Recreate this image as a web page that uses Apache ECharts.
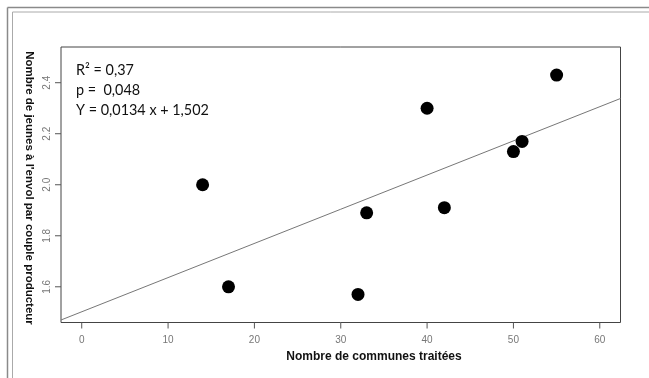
<!DOCTYPE html>
<html>
<head>
<meta charset="utf-8">
<script src="https://cdn.jsdelivr.net/npm/echarts@6/dist/echarts.min.js"></script>
<style>
  html, body { margin: 0; padding: 0; background: #fff; }
  #chart { width: 649px; height: 378px; }
</style>
</head>
<body>
<div id="chart"></div>
<script>
// Communes traitées vs. jeunes à l'envol par couple producteur
const communes = [14, 17, 32, 33, 40, 42, 50, 51, 55];
const jeunes   = [2.00, 1.60, 1.57, 1.89, 2.30, 1.91, 2.13, 2.17, 2.43];

const xTicks = [0, 10, 20, 30, 40, 50, 60];
const yTicks = [1.6, 1.8, 2.0, 2.2, 2.4];

// Fitted regression: Y = 0.0134 x + 1.502
const slope = 0.0134;
const intercept = 1.502;
const statLines = ['R\u00B2 = 0,37', 'p =  0,048', 'Y = 0,0134 x + 1,502'];

// plotting window (data range padded by 4% on each side)
const xMin = -2.4, xMax = 62.4;
const yMin = 1.46, yMax = 2.54;

const W = 649, H = 378;
const TICK_LEN = 6;

const points = communes.map((c, i) => [c, jeunes[i]]);
const fitLine = [xMin, xMax].map(x => [x, slope * x + intercept]);

const chart = echarts.init(document.getElementById('chart'), null, { renderer: 'canvas' });

const axisFont = { fontFamily: 'Liberation Sans, Arial, sans-serif', fontSize: 10, color: '#777' };

chart.setOption({
  animation: false,
  backgroundColor: '#fff',
  grid: {
    left: 61, right: 28.5, top: 47, bottom: 55.5,
    show: true, borderColor: '#444', borderWidth: 1, backgroundColor: 'transparent'
  },
  xAxis: {
    type: 'value', min: xMin, max: xMax, position: 'bottom',
    axisLine: { show: false, onZero: false },
    splitLine: { show: false },
    axisTick: { show: false },
    axisLabel: Object.assign({ customValues: xTicks, margin: 13 }, axisFont)
  },
  yAxis: {
    type: 'value', min: yMin, max: yMax, position: 'left',
    axisLine: { show: false, onZero: false },
    splitLine: { show: false },
    axisTick: { show: false },
    axisLabel: Object.assign({
      customValues: yTicks, margin: 9, rotate: 90,
      formatter: v => v.toFixed(1)
    }, axisFont)
  },
  series: [
    {
      type: 'line', data: fitLine, symbol: 'none', silent: true,
      lineStyle: { color: '#777', width: 1 }, z: 2
    },
    {
      type: 'scatter', data: points, symbol: 'circle', symbolSize: 13,
      itemStyle: { color: '#000', opacity: 1 }, z: 3
    }
  ]
});

// outward tick marks, positioned through the axis scales
const tickStyle = { stroke: '#555', lineWidth: 1 };
const tickMarks = [];
xTicks.forEach(v => {
  const p = chart.convertToPixel({ gridIndex: 0 }, [v, yMin]);
  tickMarks.push({ type: 'line', z: 100, silent: true,
    shape: { x1: p[0], y1: p[1], x2: p[0], y2: p[1] + TICK_LEN }, style: tickStyle });
});
yTicks.forEach(v => {
  const p = chart.convertToPixel({ gridIndex: 0 }, [xMin, v]);
  tickMarks.push({ type: 'line', z: 100, silent: true,
    shape: { x1: p[0] - TICK_LEN, y1: p[1], x2: p[0], y2: p[1] }, style: tickStyle });
});

const decorations = [
  // double page frame
  { type: 'line', shape: { x1: 7.5, y1: 7.5, x2: W, y2: 7.5 }, style: { stroke: '#8a8a8a', lineWidth: 1.5 } },
  { type: 'line', shape: { x1: 7.5, y1: 7.5, x2: 7.5, y2: H }, style: { stroke: '#8a8a8a', lineWidth: 1.5 } },
  { type: 'line', shape: { x1: 12.5, y1: 12, x2: W, y2: 12 }, style: { stroke: '#aaa', lineWidth: 1 } },
  { type: 'line', shape: { x1: 12.5, y1: 12, x2: 12.5, y2: H }, style: { stroke: '#aaa', lineWidth: 1 } },
  // axis titles
  {
    type: 'text', x: 374, y: 357,
    style: { text: 'Nombre de communes traitées', fontFamily: 'Liberation Sans, Arial, sans-serif',
      fontWeight: 'bold', fontSize: 12, fill: '#111', align: 'center', verticalAlign: 'middle' }
  },
  {
    type: 'text', x: 29, y: 188, rotation: -Math.PI / 2,
    style: { text: "Nombre de jeunes à l'envol par couple producteur", fontFamily: 'Liberation Sans, Arial, sans-serif',
      fontWeight: 'bold', fontSize: 11.5, fill: '#111', align: 'center', verticalAlign: 'middle' }
  },
  // regression statistics
  ...statLines.map((t, i) => ({
    type: 'text', x: 76, y: 70.7 + i * 19.7,
    style: { text: t, fontFamily: 'Lato, sans-serif', fontSize: 14.4, fill: '#111', align: 'left', verticalAlign: 'middle' }
  }))
];

chart.setOption({ graphic: decorations.concat(tickMarks) });
</script>
</body>
</html>
